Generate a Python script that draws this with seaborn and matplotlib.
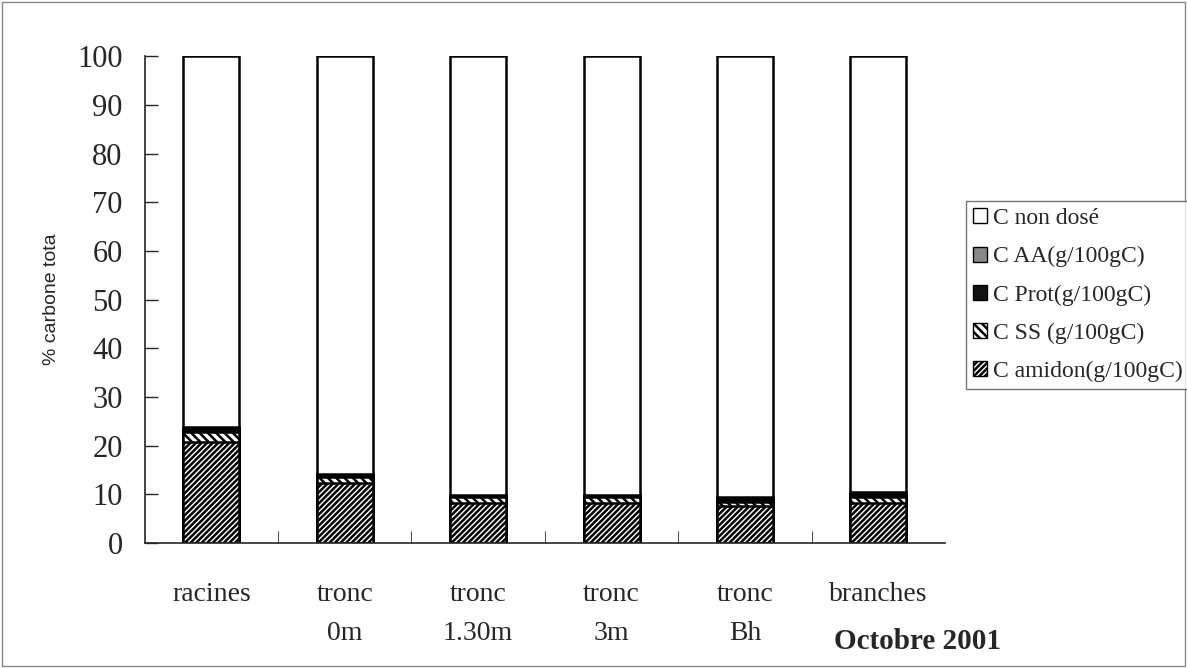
import numpy as np
import pandas as pd
import matplotlib
matplotlib.use("Agg")
import matplotlib.pyplot as plt
import seaborn as sns
from matplotlib.patches import Patch

categories = ["racines", "tronc\n0m", "tronc\n1.30m", "tronc\n3m", "tronc\nBh", "branches"]
c_amidon = [20.7, 12.3, 8.2, 8.2, 7.6, 8.3]
c_ss = [2.2, 1.2, 1.2, 1.2, 0.9, 1.2]
c_prot = [0.6, 0.4, 0.3, 0.3, 0.5, 0.5]
c_aa = [0.4, 0.3, 0.2, 0.2, 0.5, 0.4]
c_non_dose = [100 - a - b - c - d for a, b, c, d in zip(c_amidon, c_ss, c_prot, c_aa)]

series = [
    ("C amidon(g/100gC)", c_amidon, "white", "//////"),
    ("C SS (g/100gC)", c_ss, "white", "\\\\\\\\"),
    ("C Prot(g/100gC)", c_prot, "#111111", None),
    ("C AA(g/100gC)", c_aa, "#888888", None),
    ("C non dosé", c_non_dose, "white", None),
]

sns.set_style("ticks")
plt.rcParams["font.family"] = ["Liberation Serif", "DejaVu Serif"]
plt.rcParams["hatch.linewidth"] = 1.8

fig = plt.figure(figsize=(11.87, 6.68), dpi=100)
ax = fig.add_axes([0.122, 0.187, 0.674, 0.729])

# cumulative heights, drawn from top layer down so lower layers overlay
cum = np.cumsum([s[1] for s in series], axis=0)
for i in range(len(series) - 1, -1, -1):
    name, vals, color, hatch = series[i]
    df = pd.DataFrame({"cat": categories, "val": cum[i]})
    sns.barplot(data=df, x="cat", y="val", color=color, width=0.42,
                edgecolor="black", linewidth=1.8, ax=ax, saturation=1)
    for p in ax.patches[-len(categories):]:
        p.set_facecolor(color)
        if hatch:
            p.set_hatch(hatch)

ax.set_ylim(0, 100)
ax.set_xlim(-0.5, 5.5)
ax.set_yticks(range(0, 101, 10))
ax.tick_params(axis="y", labelsize=22, length=9, width=1, direction="in", pad=16)
ax.tick_params(axis="x", labelsize=20, length=0, pad=28)
for t in ax.get_xticklabels():
    t.set_linespacing(1.75)
ax.set_xticks([0.5 + k for k in range(5)], minor=True)
ax.tick_params(axis="x", which="minor", length=9, direction="in")
ax.set_xlabel("")
ax.set_ylabel("% carbone tota", family=["Liberation Sans"], fontsize=14, labelpad=12)
sns.despine(ax=ax)
for s in ["left", "bottom"]:
    ax.spines[s].set_linewidth(1.2)

handles = [Patch(facecolor=s[2], edgecolor="black", hatch=s[3], label=s[0]) for s in series][::-1]
leg = fig.legend(handles=handles, loc="upper left", bbox_to_anchor=(0.814, 0.699),
                 fontsize=17, frameon=True, fancybox=False, edgecolor="#555555",
                 handlelength=0.6, handleheight=0.6, handletextpad=0.25,
                 labelspacing=0.72, borderpad=0.3, borderaxespad=0)
leg.get_frame().set_linewidth(1.0)

fig.text(0.703, 0.028, "Octobre 2001", fontsize=21, fontweight="bold")

border = plt.Rectangle((0.002, 0.003), 0.996, 0.994, transform=fig.transFigure,
                       fill=False, edgecolor="#888888", linewidth=1)
fig.add_artist(border)

fig.savefig("out.png", dpi=100)
